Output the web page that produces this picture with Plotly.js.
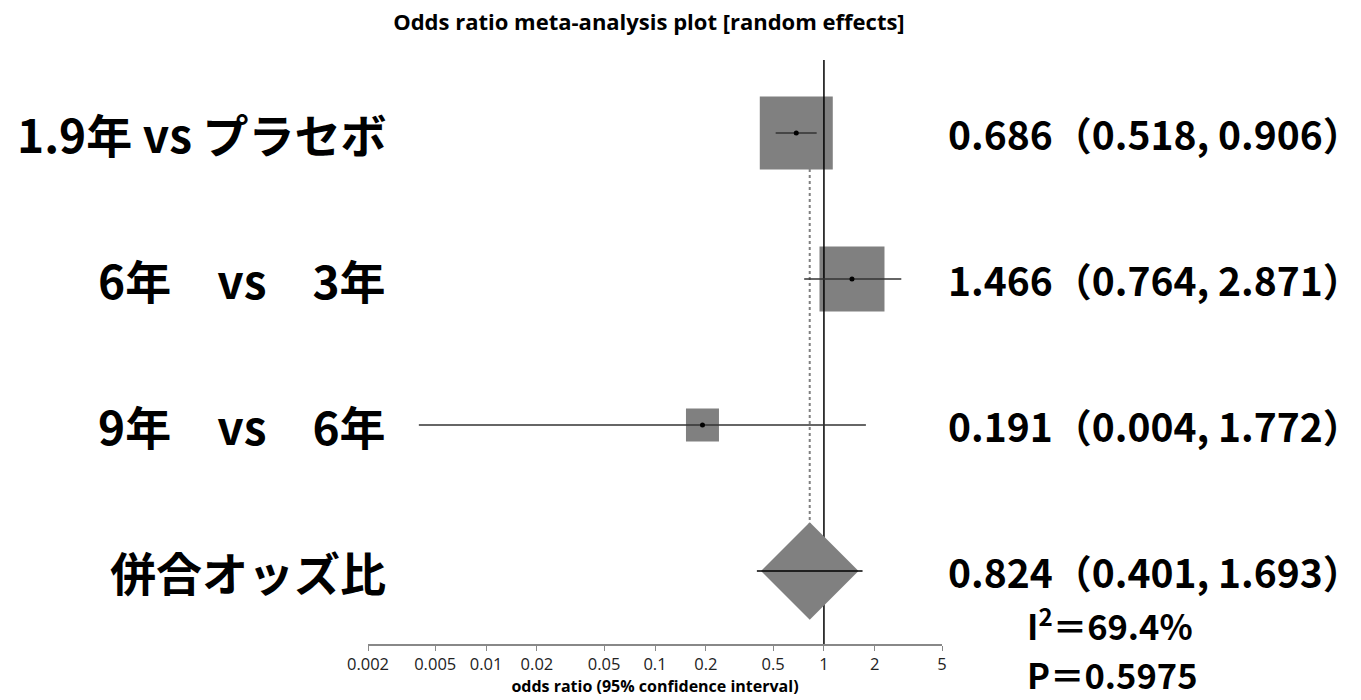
<!DOCTYPE html>
<html>
<head>
<meta charset="utf-8">
<script src="https://cdn.plot.ly/plotly-3.0.1.min.js"></script>
<style>
  html, body { margin: 0; padding: 0; background: #fff; }
  #chart { width: 1361px; height: 700px; }
</style>
</head>
<body>
<div id="chart"></div>
<script>
// Comparisons (the last entry is the pooled random-effects estimate)
const comparisons = ['1.9年 vs プラセボ', '6年　vs　3年', '9年　vs　6年', '併合オッズ比'];
const oddsRatio = [0.686, 1.466, 0.191, 0.824];
const ciLower = [0.518, 0.764, 0.004, 0.401];
const ciUpper = [0.906, 2.871, 1.772, 1.693];

// Heterogeneity and test results
const i2Text = '69.4%';
const pText = '0.5975';

// Log-scale axis ticks
const tickValues = [0.002, 0.005, 0.01, 0.02, 0.05, 0.1, 0.2, 0.5, 1, 2, 5];
const tickLabels = ['0.002', '0.005', '0.01', '0.02', '0.05', '0.1', '0.2', '0.5', '1', '2', '5'];

const nRows = comparisons.length;
const rowY = comparisons.map((_, i) => nRows - i);
const study = [0, 1, 2];
const pooled = nRows - 1;

// Box sizes for the individual studies (pixels)
const boxPx = [73, 65, 33];

const cjk = '"Noto Sans CJK JP", "Noto Sans", sans-serif';
const latin = '"Open Sans", "Noto Sans", sans-serif';
const grey = '#808080';

const traces = [];

// study boxes
traces.push({
  type: 'scatter', mode: 'markers',
  x: study.map(i => oddsRatio[i]), y: study.map(i => rowY[i]),
  marker: { symbol: 'square', size: boxPx, color: grey, opacity: 1, line: { width: 0 } },
  hoverinfo: 'skip', showlegend: false, cliponaxis: false
});

// reference line at OR = 1
traces.push({
  type: 'scatter', mode: 'lines',
  x: [1, 1], y: [0.5, 4.5],
  line: { color: '#000', width: 1.5 },
  hoverinfo: 'skip', showlegend: false
});

// dotted line at the pooled estimate
traces.push({
  type: 'scatter', mode: 'lines',
  x: [oddsRatio[pooled], oddsRatio[pooled]], y: [rowY[0], rowY[pooled]],
  line: { color: grey, width: 2, dash: 'dot' },
  hoverinfo: 'skip', showlegend: false
});

// pooled diamond
traces.push({
  type: 'scatter', mode: 'markers',
  x: [oddsRatio[pooled]], y: [rowY[pooled]],
  marker: { symbol: 'diamond', size: 75, color: grey, opacity: 1, line: { width: 0 } },
  hoverinfo: 'skip', showlegend: false, cliponaxis: false
});

// confidence interval lines
comparisons.forEach((_, i) => {
  traces.push({
    type: 'scatter', mode: 'lines',
    x: [ciLower[i], ciUpper[i]], y: [rowY[i], rowY[i]],
    line: { color: i === pooled ? '#000' : '#333', width: 1.5 },
    hoverinfo: 'skip', showlegend: false
  });
});

// point estimates of the studies
traces.push({
  type: 'scatter', mode: 'markers',
  x: study.map(i => oddsRatio[i]), y: study.map(i => rowY[i]),
  marker: { symbol: 'circle', size: 5, color: '#000' },
  hoverinfo: 'skip', showlegend: false
});

const annotations = [];

// row labels on the left
comparisons.forEach((name, i) => {
  annotations.push({
    xref: 'paper', yref: 'y', x: 0.0348, y: rowY[i],
    xanchor: 'right', yanchor: 'middle', showarrow: false,
    text: '<b>' + name + '</b>',
    font: { family: cjk, size: 46, color: '#000' }
  });
});

// estimate and interval on the right
comparisons.forEach((_, i) => {
  annotations.push({
    xref: 'paper', yref: 'y', x: 1.0070, y: rowY[i],
    xanchor: 'left', yanchor: 'middle', showarrow: false,
    text: '<b>' + oddsRatio[i].toFixed(3) + '（' + ciLower[i].toFixed(3) + ', ' + ciUpper[i].toFixed(3) + '）</b>',
    font: { family: cjk, size: 39, color: '#000' }
  });
});

// heterogeneity and p-value
annotations.push({
  xref: 'paper', yref: 'paper', x: 1.1446, y: 0.0334,
  xanchor: 'left', yanchor: 'middle', showarrow: false,
  text: '<b>I<sup>2</sup>＝' + i2Text + '</b>',
  font: { family: cjk, size: 34.5, color: '#000' }
});
annotations.push({
  xref: 'paper', yref: 'paper', x: 1.1446, y: -0.0522,
  xanchor: 'left', yanchor: 'middle', showarrow: false,
  text: '<b>P＝' + pText + '</b>',
  font: { family: cjk, size: 34.5, color: '#000' }
});

const layout = {
  width: 1361, height: 700,
  margin: { l: 368, r: 419, t: 60, b: 56, pad: 0 },
  paper_bgcolor: '#fff', plot_bgcolor: '#fff',
  showlegend: false,
  title: {
    text: '<b>Odds ratio meta-analysis plot [random effects]</b>',
    font: { family: latin, size: 22, color: '#000' },
    x: 0.4768, xanchor: 'center', y: 0.9686, yanchor: 'middle'
  },
  xaxis: {
    type: 'log',
    range: [Math.log10(0.002), Math.log10(5)],
    tickmode: 'array', tickvals: tickValues, ticktext: tickLabels,
    ticks: 'outside', ticklen: 5, tickwidth: 1, tickcolor: '#888',
    showline: true, linecolor: '#888', linewidth: 1.5,
    showgrid: false, zeroline: false,
    tickfont: { family: latin, size: 16.5, color: '#222' },
    title: {
      text: '<b>odds ratio (95% confidence interval)</b>',
      font: { family: latin, size: 16, color: '#000' },
      standoff: 6
    },
    automargin: false, fixedrange: true
  },
  yaxis: {
    range: [0.5, 4.5], visible: false, showgrid: false, zeroline: false,
    automargin: false, fixedrange: true
  },
  annotations: annotations
};

Plotly.newPlot('chart', traces, layout, { staticPlot: true, displayModeBar: false });
</script>
</body>
</html>
